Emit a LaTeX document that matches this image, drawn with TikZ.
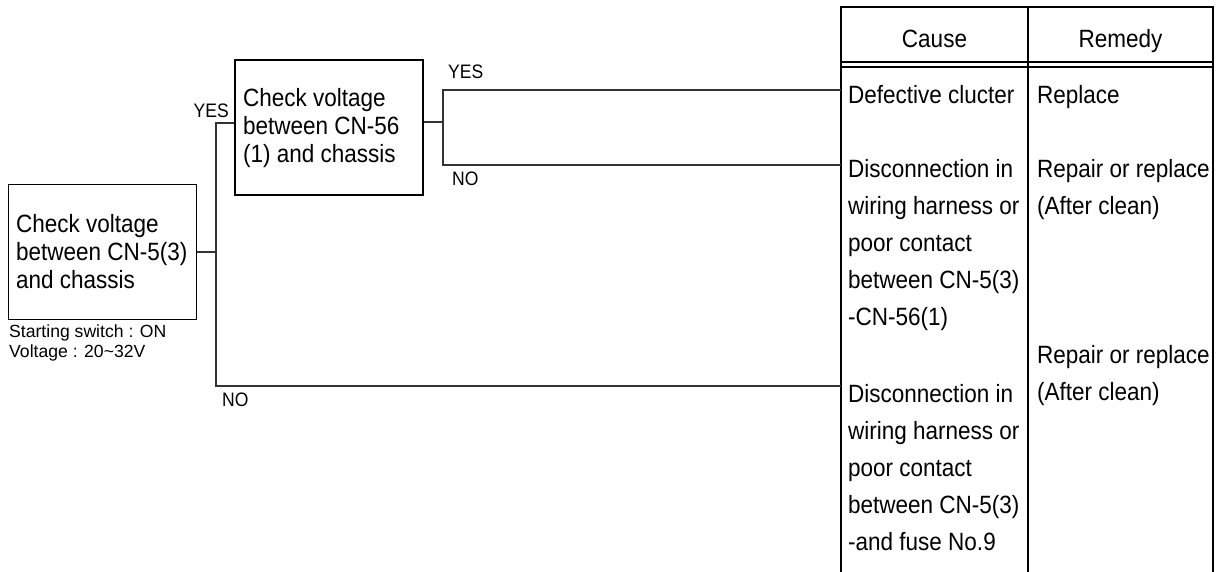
\documentclass[tikz,border=0pt]{standalone}
\usepackage{fontspec}
\setmainfont{Liberation Sans}[FakeStretch=0.9]
\newfontfamily\plainsans{Liberation Sans}
\begin{document}
\begin{tikzpicture}[x=1pt,y=-1pt,
  checkbox/.style={draw, line width=1.6pt, inner sep=0, minimum width=188pt, minimum height=135pt},
  boxtext/.style={anchor=base west, align=left, inner sep=0, font=\fontsize{25}{28}\selectfont},
  celltext/.style={anchor=base west, align=left, inner sep=0, font=\fontsize{25}{37}\selectfont},
  headtext/.style={anchor=base, inner sep=0, font=\fontsize{25}{30}\selectfont},
  answer/.style={anchor=base west, inner sep=0, font=\fontsize{19.5}{22}\selectfont},
  note/.style={anchor=base west, align=left, inner sep=0, font=\plainsans\fontsize{17.6}{20}\selectfont},
  link/.style={line width=1.1pt, draw=black!80},
  rule/.style={line width=1.3pt}]
\useasboundingbox (0,0) rectangle (1216,571);

% boxes (multi-line text nodes are placed by the baseline of their last line)
\node[checkbox] (b1) at (102.5,252) {};
\node[boxtext] (t1) at (16,288) {Check voltage\\between CN-5(3)\\and chassis};
\node[checkbox] (b2) at (329,127.5) {};
\node[boxtext] (t2) at (243,162) {Check voltage\\between CN-56\\(1) and chassis};
\node[note] (n1) at (9,357) {Starting switch : ON\\Voltage : 20\textasciitilde32V};

% table
\coordinate (tl) at (841,7);
\coordinate (tm) at (1028,7);
\coordinate (tr) at (1213,7);
\coordinate (bl) at (841,575);
\coordinate (bm) at (1028,575);
\coordinate (br) at (1213,575);
\draw[rule] (bl) -- (tl) -- (tr) -- (br);
\draw[rule] (tm) -- (bm);
\draw[rule] ([yshift=-55pt]tl) -- ([yshift=-55pt]tr);
\draw[rule] ([yshift=-60pt]tl) -- ([yshift=-60pt]tr);
\node[headtext] (hc) at (934.5,47) {Cause};
\node[headtext] (hr) at (1120.5,47) {Remedy};

\node[celltext] (c1) at (848,103) {Defective clucter};
\node[celltext] (c2) at (848,325) {Disconnection in\\wiring harness or\\poor contact\\between CN-5(3)\\-CN-56(1)};
\node[celltext] (c3) at (848,550) {Disconnection in\\wiring harness or\\poor contact\\between CN-5(3)\\-and fuse No.9};
\node[celltext] (r1) at (1037,103) {Replace};
\node[celltext] (r2) at (1037,214) {Repair or replace\\(After clean)};
\node[celltext] (r3) at (1037,400) {Repair or replace\\(After clean)};

% connectors
\coordinate (ja) at (216,123);
\coordinate (jb) at (216,386);
\draw[link] (b1.east) -- (b1.east -| ja);
\draw[link] (ja -| b2.west) -- (ja) -- (jb) -- (jb -| tl);
\coordinate (ka) at (443,90);
\coordinate (kb) at (443,165);
\coordinate (km) at (443,122);
\draw[link] (km -| b2.east) -- (km);
\draw[link] (ka -| tl) -- (ka) -- (kb) -- (kb -| tl);

% labels
\node[answer, anchor=base east] (y1) at (229,117) {YES};
\node[answer] (y2) at (448,78) {YES};
\node[answer] (no1) at (452,185) {NO};
\node[answer] (no2) at (222,406) {NO};
\end{tikzpicture}
\end{document}
